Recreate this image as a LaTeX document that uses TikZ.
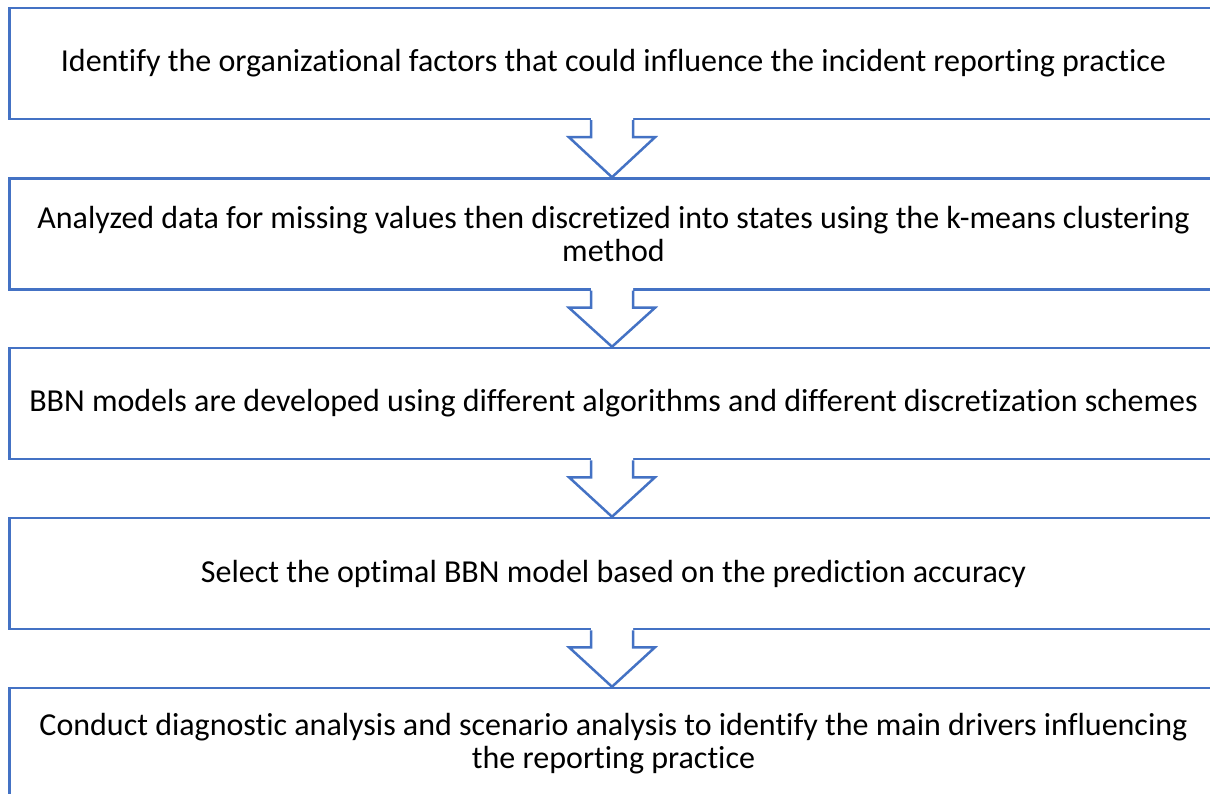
\documentclass[tikz,border=0pt]{standalone}
\usepackage{fontspec}
\setmainfont{Carlito}[RawFeature={-liga}]
\usetikzlibrary{calc}
\definecolor{stepblue}{HTML}{4472C4}
\tikzset{
  stepbox/.style={draw=stepblue, line width=2.5pt, fill=white, rectangle,
    minimum width=1208pt, minimum height=111pt, inner sep=0pt,
    align=center, font=\fontsize{32}{33}\selectfont},
  flowarrow/.style={draw=stepblue, line width=2.5pt, line join=miter},
}
\begin{document}
\begin{tikzpicture}[x=1pt,y=1pt]
  \useasboundingbox (0,0) rectangle (1210,-794);
  \fill[white] (0,0) rectangle (1210,-794);

  % process steps
  \node[stepbox] (b1) at (613.5,-63.5) {Identify the organizational factors that could influence the incident reporting practice};
  \node[stepbox] (b2) at (613.5,-234) {Analyzed data for missing values then discretized into states using the k-means clustering\\method};
  \node[stepbox] (b3) at (613.5,-403.5) {BBN models are developed using different algorithms and different discretization schemes};
  \node[stepbox] (b4) at (613.5,-573.5) {Select the optimal BBN model based on the prediction accuracy};
  \node[stepbox] (b5) at (613.5,-743.5) {Conduct diagnostic analysis and scenario analysis to identify the main drivers influencing\\the reporting practice};

  % block arrows between consecutive steps
  \foreach \a/\b in {b1/b2, b2/b3, b3/b4, b4/b5}{
    \coordinate (top) at ($(\a.south)+(-1.5,0)$);
    \coordinate (tip) at ($(\b.north)+(-1.5,0)$);
    \fill[white] ($(top)+(-21,4)$) -- ($(top)+(-21,-17)$) -- ($(top)+(-43,-17)$)
      -- (tip) -- ($(top)+(43,-17)$) -- ($(top)+(21,-17)$) -- ($(top)+(21,4)$) -- cycle;
    \draw[flowarrow] ($(top)+(-21,0)$) -- ++(0,-17) -- ++(-22,0) -- (tip)
      -- ($(top)+(43,-17)$) -- ++(-22,0) -- ++(0,17);
  }
\end{tikzpicture}
\end{document}
